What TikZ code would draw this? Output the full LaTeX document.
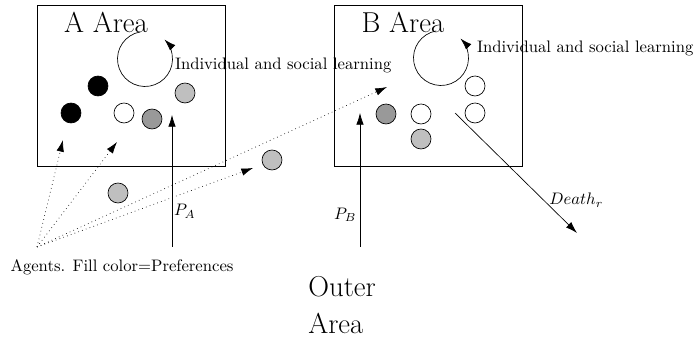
\documentclass[tikz,border=0pt]{standalone}
\usepackage{tikz}
\usetikzlibrary{arrows.meta}
\begin{document}
\begin{tikzpicture}[x=0.6pt, y=0.6pt]
\tikzset{agent/.style={circle, draw, minimum size=12pt, inner sep=0pt},
 prefA/.style={agent, fill=black!40}, prefB/.style={agent, fill=black!25},
 area/.style={font=\LARGE}, link/.style={-{Latex[length=7pt, width=4.5pt]}}}
\useasboundingbox (0,0) rectangle (696,338);
% areas
\draw (37,172) rectangle (225,333);
\draw (334,172) rectangle (522,333);
\node[area] (areaA) at (106,316) {A Area};
\node[area] (areaB) at (403,316) {B Area};
\node[area, align=left, anchor=north west, inner sep=0pt] (outer) at (308,62) {Outer\\Area};
% learning loops
\coordinate (loopA) at (145,279);
\coordinate (loopB) at (441,280);
\draw[link] (loopA) ++(100:16.5pt) arc[start angle=100, end angle=405, radius=16.5pt];
\draw[link] (loopB) ++(100:16.5pt) arc[start angle=100, end angle=405, radius=16.5pt];
\node[anchor=west, inner sep=1pt] (learnA) at (173,273) {Individual and social learning};
\node[anchor=west, inner sep=1pt] (learnB) at (475,290) {Individual and social learning};
% agents
\node[agent, fill=black] (a1) at (98,252) {};
\node[agent, fill=black] (a2) at (71,225) {};
\node[agent] (a3) at (124,225) {};
\node[prefA] (a4) at (152,219) {};
\node[prefB] (a5) at (185,245) {};
\node[prefB] (o1) at (118,145) {};
\node[prefB] (o2) at (272,178) {};
\node[prefA] (b1) at (386,224) {};
\node[agent] (b2) at (421,224) {};
\node[prefB] (b3) at (421,199) {};
\node[agent] (b4) at (475,252) {};
\node[agent] (b5) at (475,225) {};
% migration
\coordinate (inA) at (172,91);
\coordinate (topA) at (172,223);
\coordinate (inB) at (360,91);
\coordinate (topB) at (360,225);
\draw[link] (inA) -- node[pos=0.27, anchor=west, inner sep=1pt] {$P_A$} (topA);
\draw[link] (inB) -- node[pos=0.24, anchor=east, inner sep=2pt] {$P_B$} (topB);
\coordinate (dieFrom) at (455,225);
\coordinate (dieTo) at (577,105);
\draw[link] (dieFrom) -- (dieTo);
\node[anchor=west, inner sep=0pt] (death) at (549,138) {$Death_r$};
% agents label
\coordinate (src) at (37,91);
\node (agents) at (122,71) {Agents. Fill color=Preferences};
\coordinate (t1) at (63,198);
\coordinate (t2) at (117,196);
\coordinate (t3) at (253,170);
\coordinate (t4) at (387,251);
\foreach \t in {t1,t2,t3,t4}
  \draw[link, dotted] (src) -- (\t);
\end{tikzpicture}
\end{document}
